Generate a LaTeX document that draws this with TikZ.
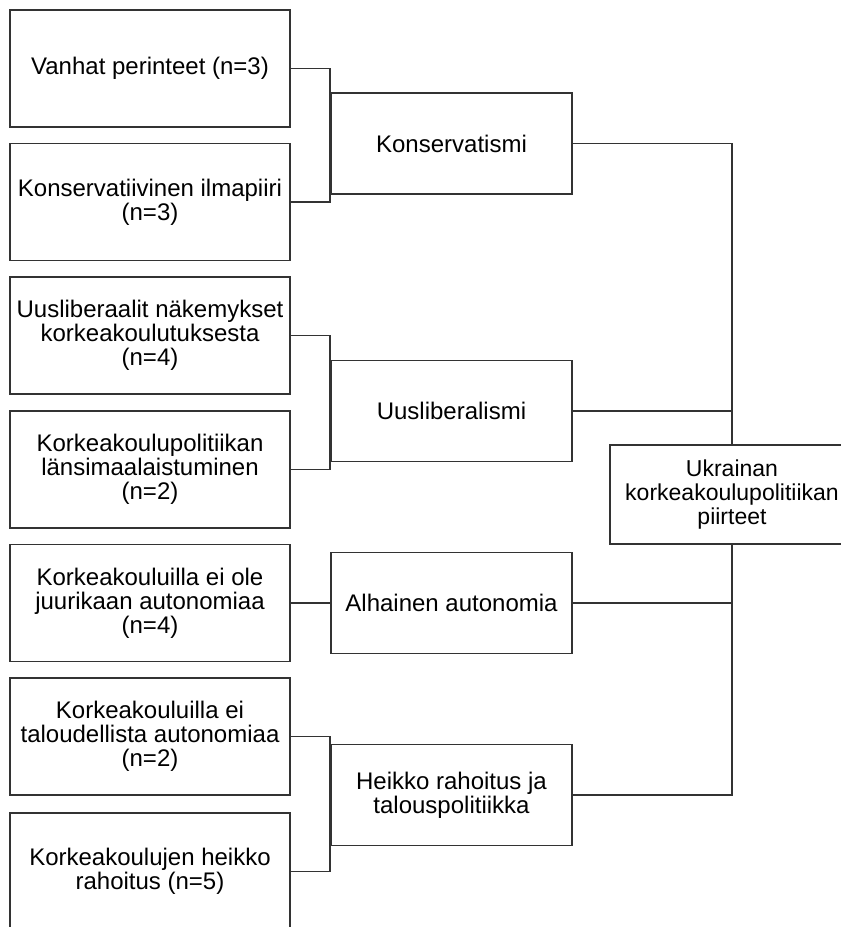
\documentclass[tikz,border=0pt]{standalone}
\usepackage{fontspec}
\setmainfont{Liberation Sans}
\begin{document}
\begin{tikzpicture}[x=1pt,y=-1pt,
  boxstyle/.style={draw=black!80, line width=1.8pt, fill=white, align=center, inner sep=0pt,
    font=\fontsize{24}{23.8}\selectfont},
  leftbox/.style={boxstyle, minimum width=280pt, minimum height=117pt},
  midbox/.style={boxstyle, minimum width=241pt, minimum height=101pt},
  conn/.style={draw=black!80, line width=1.8pt}]
\clip (0,0) rectangle (841,927);
\useasboundingbox (0,0) rectangle (841,927);
\fill[white] (0,0) rectangle (841,927);
% left boxes
\node[leftbox] (b1) at (150,68.5) {Vanhat perinteet (n=3)};
\node[leftbox] (b2) at (150,202) {Konservatiivinen ilmapiiri\\(n=3)};
\node[leftbox] (b3) at (150,335.5) {Uusliberaalit näkemykset\\korkeakoulutuksesta\\(n=4)};
\node[leftbox] (b4) at (150,469.5) {Korkeakoulupolitiikan\\länsimaalaistuminen\\(n=2)};
\node[leftbox] (b5) at (150,603) {Korkeakouluilla ei ole\\juurikaan autonomiaa\\(n=4)};
\node[leftbox] (b6) at (150,736.5) {Korkeakouluilla ei\\taloudellista autonomiaa\\(n=2)};
\node[leftbox] (b7) at (150,871.5) {Korkeakoulujen heikko\\rahoitus (n=5)};
% middle boxes
\node[midbox] (k) at (451.5,143.5) {Konservatismi};
\node[midbox] (ul) at (451.5,411) {Uusliberalismi};
\node[midbox] (a) at (451.5,603) {Alhainen autonomia};
\node[midbox] (h) at (451.5,795) {Heikko rahoitus ja\\talouspolitiikka};
% right box
\node[boxstyle, minimum width=244pt, minimum height=99pt, font=\fontsize{23}{23.8}\selectfont] (u) at (732,494.5) {Ukrainan\\korkeakoulupolitiikan\\piirteet};
% brackets
\draw[conn] (b1.east) -- (b1.east -| k.west) -- (b2.east -| k.west) -- (b2.east);
\draw[conn] (b3.east) -- (b3.east -| ul.west) -- (b4.east -| ul.west) -- (b4.east);
\draw[conn, line width=2.6pt] (b5.east) -- (a.west);
\draw[conn] (b6.east) -- (b6.east -| h.west) -- (b7.east -| h.west) -- (b7.east);
% to main
\draw[conn] (k.east) -| (u.north);
\draw[conn] (ul.east) -- (ul.east -| u.north);
\draw[conn] (a.east) -- (a.east -| u.south);
\draw[conn] (h.east) -| (u.south);
\end{tikzpicture}
\end{document}
